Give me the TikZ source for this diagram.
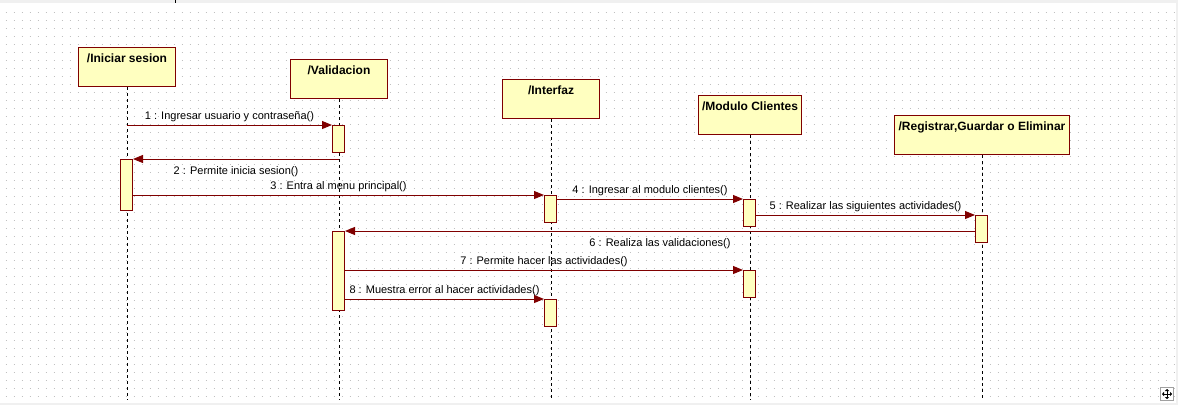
\documentclass[tikz,border=0pt]{standalone}
\usepackage{fontspec}
\setmainfont{Liberation Sans}
\usetikzlibrary{arrows.meta}
\definecolor{maroon}{RGB}{128,0,0}
\definecolor{boxfill}{RGB}{255,255,192}
\definecolor{griddot}{RGB}{192,192,192}
\definecolor{frameband}{RGB}{240,240,240}
\definecolor{iconframe}{RGB}{160,160,160}

\begin{document}
\begin{tikzpicture}[x=1pt,y=-1pt,
  header/.style={draw=maroon, fill=boxfill, line width=1pt, anchor=north west,
    inner sep=0pt, text height=15pt, text depth=24pt, align=center,
    font=\bfseries\fontsize{12}{14}\selectfont},
  act/.style={draw=maroon, fill=boxfill, line width=1pt, anchor=north,
    minimum width=12pt, inner sep=0pt},
  lifeline/.style={draw=black, line width=1pt, dash pattern=on 3pt off 3pt},
  msg/.style={draw=maroon, line width=1pt, -{Triangle[length=10pt,width=8pt]}},
  lblup/.style={midway, anchor=base, yshift=5.5pt, inner sep=0pt,
    font=\fontsize{11}{13}\selectfont},
  lbldown/.style={midway, anchor=base, yshift=-15pt, inner sep=0pt,
    font=\fontsize{11}{13}\selectfont},
]
% canvas
\useasboundingbox (0,0) rectangle (1178,405);
\fill[white] (0,0) rectangle (1178,405);
\fill[frameband] (0,0) rectangle (1178,3);
\fill[frameband] (1176,0) rectangle (1178,405);
\fill[frameband] (0,403) rectangle (1178,405);
\fill[black] (174.5,0) rectangle (175.5,2.5);

% dotted grid
\foreach \r in {12,20,...,396}
  \draw[griddot, line width=1pt, dash pattern=on 1pt off 7pt] (5.5,\r) -- (1176,\r);

\coordinate (bottom) at (0,400);

% lifeline heads
\node[header, minimum width=97pt, minimum height=39pt]  (h1) at (78,47)  {/Iniciar sesion};
\node[header, minimum width=97pt, minimum height=39pt]  (h2) at (290,59) {/Validacion};
\node[header, minimum width=97pt, minimum height=39pt]  (h3) at (502,79) {/Interfaz};
\node[header, minimum width=103pt, minimum height=39pt] (h4) at (698,95) {/Modulo Clientes};
\node[header, minimum width=175pt, minimum height=39pt] (h5) at (894,115) {/Registrar,Guardar o Eliminar};

% lifelines
\foreach \h in {h1,h2,h3,h4,h5}
  \draw[lifeline] (\h.south) -- (\h.south |- bottom);

% activation bars
\node[act, minimum height=51pt] (i1) at (126.5,159) {};
\node[act, minimum height=27pt] (v1) at (338.5,125) {};
\node[act, minimum height=79pt] (v2) at (338.5,231) {};
\node[act, minimum height=27pt] (f1) at (550.5,195) {};
\node[act, minimum height=27pt] (f2) at (550.5,299) {};
\node[act, minimum height=27pt] (m1) at (749.5,199) {};
\node[act, minimum height=27pt] (m2) at (749.5,270) {};
\node[act, minimum height=27pt] (r1) at (981.5,215) {};

% messages
\draw[msg] (h1.south |- v1.north) -- (v1.north west)
  node[lblup] {1 : Ingresar usuario y contraseña()};
\draw[msg] (h2.south |- i1.north) -- (i1.north east)
  node[lbldown] {2 : Permite inicia sesion()};
\draw[msg] (i1.east |- f1.north) -- (f1.north west)
  node[lblup] {3 : Entra al menu principal()};
\draw[msg] (f1.east |- m1.north) -- (m1.north west)
  node[lblup] {4 : Ingresar al modulo clientes()};
\draw[msg] (m1.east |- r1.north) -- (r1.north west)
  node[lblup] {5 : Realizar las siguientes actividades()};
\draw[msg] (r1.west |- v2.north) -- (v2.north east)
  node[lbldown] {6 : Realiza las validaciones()};
\draw[msg] (v2.east |- m2.north) -- (m2.north west)
  node[lblup] {7 : Permite hacer las actividades()};
\draw[msg] (v2.east |- f2.north) -- (f2.north west)
  node[lblup] {8 : Muestra error al hacer actividades()};

% move handle
\draw[iconframe, line width=1pt, fill=white] (1160.5,387.5) rectangle (1173.5,400.5);
\coordinate (mc) at (1167,394);
\foreach \dx/\dy in {0/-5,0/5,-5/0,5/0}
  \draw[black, line width=1pt, -{Triangle[length=2pt,width=4pt]}] (mc) -- ++(\dx,\dy);
\end{tikzpicture}
\end{document}
